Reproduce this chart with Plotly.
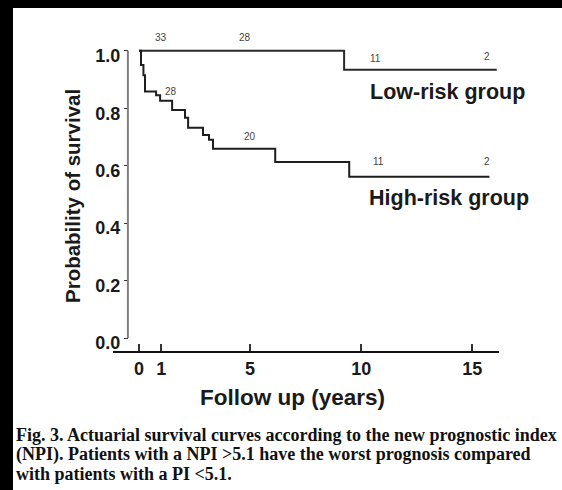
import plotly.graph_objects as go

# ---- data ----
low_t = [0, 9.23, 16.1]
low_s = [1.0, 0.934, 0.934]

high_t = [0, 0.09, 0.2, 0.27, 0.77, 0.95, 1.49, 2.07, 2.21, 2.88, 3.15, 3.33, 6.13, 9.46, 15.77]
high_s = [1.0, 0.95, 0.915, 0.858, 0.845, 0.826, 0.794, 0.767, 0.732, 0.707, 0.69, 0.659, 0.613, 0.561, 0.561]

low_at_risk = ["33", "28", "11", "2"]
high_at_risk = ["28", "20", "11", "2"]

x_ticks = [0, 1, 5, 10, 15]
x_tick_labels = ["0", "1", "5", "10", "15"]
y_ticks = [0.0, 0.2, 0.4, 0.6, 0.8, 1.0]
y_tick_labels = ["0.0", "0.2", "0.4", "0.6", "0.8", "1.0"]

caption_lines = [
    "Fig. 3. Actuarial survival curves according to the new prognostic index",
    "(NPI). Patients with a NPI >5.1 have the worst prognosis compared",
    "with patients with a PI <5.1.",
]

# label placements (layout, in data units)
low_at_risk_pos = [(0.99, 1.045), (4.77, 1.045), (10.63, 0.972), (15.68, 0.979)]
high_at_risk_pos = [(1.44, 0.857), (5.0, 0.700), (10.77, 0.613), (15.68, 0.613)]

SANS = "Liberation Sans, Arial, sans-serif"
SERIF = "Liberation Serif, Times New Roman, serif"

fig = go.Figure()
fig.add_trace(go.Scatter(x=low_t, y=low_s, mode="lines", line=dict(shape="hv", color="#2a2a2a", width=2),
                         showlegend=False, cliponaxis=False))
fig.add_trace(go.Scatter(x=high_t, y=high_s, mode="lines", line=dict(shape="hv", color="#1e1e1e", width=2),
                         showlegend=False, cliponaxis=False))

annotations = []
for n, (x, y) in zip(low_at_risk, low_at_risk_pos):
    annotations.append(dict(x=x, y=y, xref="x", yref="y", text=n, showarrow=False,
                            font=dict(family=SANS, size=10, color="#444")))
for n, (x, y) in zip(high_at_risk, high_at_risk_pos):
    annotations.append(dict(x=x, y=y, xref="x", yref="y", text=n, showarrow=False,
                            font=dict(family=SANS, size=10, color="#444")))

annotations.append(dict(x=13.87, y=0.857, xref="x", yref="y", text="Low-risk group", showarrow=False,
                        xanchor="center", yanchor="middle",
                        font=dict(family=SANS, size=21.5, color="#1a1a1a", weight="bold")))
annotations.append(dict(x=13.96, y=0.488, xref="x", yref="y", text="High-risk group", showarrow=False,
                        xanchor="center", yanchor="middle",
                        font=dict(family=SANS, size=21.5, color="#1a1a1a", weight="bold")))

# axis titles
annotations.append(dict(x=(292 - 113) / 386, y=(351 - 397) / 329, xref="paper", yref="paper",
                        text="Follow up (years)", showarrow=False, xanchor="center", yanchor="middle",
                        font=dict(family=SANS, size=22.5, color="#1a1a1a", weight="bold")))
annotations.append(dict(x=(72 - 113) / 386, y=(351 - 196) / 329, xref="paper", yref="paper",
                        text="Probability of survival", showarrow=False, textangle=-90,
                        xanchor="center", yanchor="middle",
                        font=dict(family=SANS, size=20.5, color="#1a1a1a", weight="bold")))

# caption
for i, line in enumerate(caption_lines):
    annotations.append(dict(x=(14 - 113) / 386, y=(351 - (435 + 19.5 * i)) / 329, xref="paper", yref="paper",
                            text=line, showarrow=False, xanchor="left", yanchor="middle",
                            font=dict(family=SERIF, size=18, color="#111", weight="bold")))

shapes = [
    # black border bands (top and left)
    dict(type="rect", xref="paper", yref="paper", x0=-0.4, x1=1.3,
         y0=(351 - 8) / 329, y1=1.2, fillcolor="black", line=dict(width=0), layer="below"),
    dict(type="rect", xref="paper", yref="paper", x0=-0.4, x1=(13 - 113) / 386,
         y0=-0.5, y1=1.2, fillcolor="black", line=dict(width=0), layer="below"),
    # y axis line
    dict(type="line", xref="x", yref="y", x0=-0.5, x1=-0.5, y0=0.0, y1=1.0,
         line=dict(color="#808080", width=2)),
]

fig.update_layout(
    width=562, height=490,
    margin=dict(l=113, r=63, t=22, b=139),
    paper_bgcolor="white",
    plot_bgcolor="white",
    annotations=annotations,
    shapes=shapes,
    xaxis=dict(range=[-1.17, 16.2], showgrid=False, zeroline=False,
               showline=True, linecolor="#111", linewidth=2,
               tickmode="array", tickvals=x_ticks, ticktext=x_tick_labels,
               ticks="inside", ticklen=7, tickwidth=1.5, tickcolor="#333",
               tickfont=dict(family=SANS, size=18, color="#1a1a1a", weight="bold")),
    yaxis=dict(range=[-0.045, 1.1], showgrid=False, zeroline=False, showline=False,
               anchor="free", position=(128 - 113) / 386,
               tickmode="array", tickvals=y_ticks, ticktext=y_tick_labels,
               ticks="outside", ticklen=4, tickwidth=1.2, tickcolor="#333",
               ticklabelshift=5,
               tickfont=dict(family=SANS, size=18, color="#1a1a1a", weight="bold")),
)

fig.write_html("out.html", config={"displayModeBar": False},
               post_script="document.body.style.margin='0';")
